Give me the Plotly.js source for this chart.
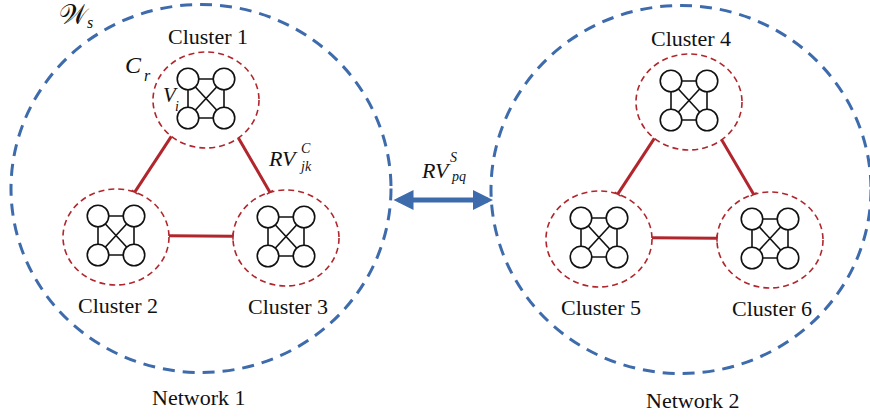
<!DOCTYPE html>
<html>
<head>
<meta charset="utf-8">
<script src="https://cdn.plot.ly/plotly-3.0.1.min.js"></script>
<style>html,body{margin:0;padding:0;background:#fff;}#chart{width:870px;height:417px;}</style>
</head>
<body>
<div id="chart"></div>
<script>
// ---- data ----
const clusterLabels = ['Cluster 1', 'Cluster 2', 'Cluster 3', 'Cluster 4', 'Cluster 5', 'Cluster 6'];
const clusterX = [206, 116, 286, 689, 599, 770];
const clusterY = [100, 237, 238, 102, 239, 240];
const clusterNetwork = [0, 0, 0, 1, 1, 1];
const networkLabels = ['Network 1', 'Network 2'];
const networkX = [201, 681];
const networkY = [188.5, 189.5];
const linkFrom = [0, 0, 1, 3, 3, 4];
const linkTo = [1, 2, 2, 4, 5, 5];
const interLinkFrom = [0];
const interLinkTo = [1];

// ---- styles / geometry ----
const BLUE = '#3d6bab', RED = '#b1262c', BLACK = '#111';
const NET_RX = 190, NET_RY = 184;
const NET_LABEL_DX = [-3, 11], NET_LABEL_DY = [208.5, 210.5];
const CL_RX = 53, CL_RY = 48;
const NODE_DX = 18, NODE_DY = 19.5;
const FONT = 'Liberation Serif';

const shapes = [];
const annotations = [];
const traces = [];

// network circles
networkX.forEach((cx, i) => {
  const cy = networkY[i];
  shapes.push({type: 'circle', xref: 'x', yref: 'y', x0: cx - NET_RX, x1: cx + NET_RX, y0: cy - NET_RY, y1: cy + NET_RY,
    line: {color: BLUE, width: 3, dash: '12px,8px'}, fillcolor: 'rgba(0,0,0,0)', layer: 'below'});
  annotations.push({x: cx + NET_LABEL_DX[i], y: cy + NET_LABEL_DY[i], xref: 'x', yref: 'y', text: networkLabels[i], showarrow: false,
    font: {family: FONT, size: 22, color: BLACK}, xanchor: 'center', yanchor: 'middle'});
});

// cluster circles + labels
clusterX.forEach((cx, i) => {
  const cy = clusterY[i];
  shapes.push({type: 'circle', xref: 'x', yref: 'y', x0: cx - CL_RX, x1: cx + CL_RX, y0: cy - CL_RY, y1: cy + CL_RY,
    line: {color: RED, width: 1.6, dash: '6px,4px'}, fillcolor: 'rgba(0,0,0,0)', layer: 'below'});
  const above = (i % 3) === 0;
  annotations.push({x: cx + (above ? 1.5 : 2), y: above ? cy - 64 : cy + 68, xref: 'x', yref: 'y', text: clusterLabels[i],
    showarrow: false, font: {family: FONT, size: 22, color: BLACK}, xanchor: 'center', yanchor: 'middle'});
});

// intra-network links between clusters
function ellipseHit(cx, cy, px, py, ux, uy) {
  const ax = (px - cx) / CL_RX, bx = ux / CL_RX, ay = (py - cy) / CL_RY, by = uy / CL_RY;
  const A = bx * bx + by * by, B = 2 * (ax * bx + ay * by), C = ax * ax + ay * ay - 1;
  const D = Math.sqrt(Math.max(0, B * B - 4 * A * C));
  return [(-B - D) / (2 * A), (-B + D) / (2 * A)];
}
const linkX = [], linkY = [], tickX = [], tickY = [];
linkFrom.forEach((a, k) => {
  const b = linkTo[k];
  const ax = clusterX[a], ay = clusterY[a], bx = clusterX[b], by = clusterY[b];
  let ux = bx - ax, uy = by - ay;
  const L = Math.hypot(ux, uy); ux /= L; uy /= L;
  let nx = -uy, ny = ux;
  const n = clusterNetwork[a];
  const mx = (ax + bx) / 2 - networkX[n], my = (ay + by) / 2 - networkY[n];
  if (nx * mx + ny * my < 0) { nx = -nx; ny = -ny; }
  const off = Math.abs(uy) > 0.3 ? 9 : -1.5;
  const px = ax + nx * off, py = ay + ny * off;
  const tA = ellipseHit(ax, ay, px, py, ux, uy)[1];
  const tB = ellipseHit(bx, by, px, py, ux, uy)[0];
  const sx = px + tA * ux, sy = py + tA * uy, ex = px + tB * ux, ey = py + tB * uy;
  linkX.push(sx, ex, null); linkY.push(sy, ey, null);
  tickX.push(ex - nx * 3.5, ex + nx * 3.5, null); tickY.push(ey - ny * 3.5, ey + ny * 3.5, null);
});
traces.push({x: linkX, y: linkY, mode: 'lines', line: {color: RED, width: 3}, hoverinfo: 'skip'});
traces.push({x: tickX, y: tickY, mode: 'lines', line: {color: RED, width: 1.5}, hoverinfo: 'skip'});

// nodes inside each cluster
const edgeX = [], edgeY = [], nodeX = [], nodeY = [];
clusterX.forEach((cx, i) => {
  const cy = clusterY[i] - 1.5;
  const px = [cx - NODE_DX, cx + NODE_DX, cx + NODE_DX, cx - NODE_DX];
  const py = [cy - NODE_DY, cy - NODE_DY, cy + NODE_DY, cy + NODE_DY];
  const pairs = [[0, 1], [1, 2], [2, 3], [3, 0], [0, 2], [1, 3]];
  pairs.forEach(([p, q]) => { edgeX.push(px[p], px[q], null); edgeY.push(py[p], py[q], null); });
  for (let j = 0; j < 4; j++) { nodeX.push(px[j]); nodeY.push(py[j]); }
});
traces.push({x: edgeX, y: edgeY, mode: 'lines', line: {color: BLACK, width: 1.6}, hoverinfo: 'skip'});
traces.push({x: nodeX, y: nodeY, mode: 'markers', marker: {symbol: 'circle', size: 21.5, color: '#fff', line: {color: BLACK, width: 1.6}}, hoverinfo: 'skip'});

// inter-network link (double arrow)
interLinkFrom.forEach((a, k) => {
  const b = interLinkTo[k];
  const y = 200;
  annotations.push({x: networkX[b] - NET_RX + 2, y: y, ax: networkX[a] + NET_RX + 1, ay: y, xref: 'x', yref: 'y', axref: 'x', ayref: 'y',
    text: '', showarrow: true, arrowhead: 2, startarrowhead: 2, arrowside: 'end+start', arrowsize: 0.8, startarrowsize: 0.8,
    arrowwidth: 5, arrowcolor: BLUE});
});

// math labels
function mathText(x, y, text, size, italic) {
  annotations.push({x: x, y: y, xref: 'x', yref: 'y', text: italic ? '<i>' + text + '</i>' : text, showarrow: false,
    font: {family: FONT, size: size, color: BLACK}, xanchor: 'center', yanchor: 'middle'});
}
mathText(74, 15, '𝒲', 27, false);
mathText(90, 22, 's', 16, true);
mathText(133, 65, 'C', 24, true);
mathText(147, 75, 'r', 16, true);
mathText(170, 95, 'V', 21, true);
mathText(177, 106, 'i', 14, true);
mathText(283, 158, 'RV', 22, true);
mathText(306, 148, 'C', 14, true);
mathText(305, 166, 'jk', 14, true);
mathText(436, 170, 'RV', 22, true);
mathText(453, 157, 'S', 14, true);
mathText(458, 176, 'pq', 14, true);

const layout = {
  width: 870, height: 417,
  margin: {l: 0, r: 0, t: 0, b: 0},
  paper_bgcolor: '#fff', plot_bgcolor: '#fff',
  showlegend: false,
  font: {family: FONT},
  xaxis: {range: [0, 870], visible: false, fixedrange: true},
  yaxis: {range: [417, 0], visible: false, fixedrange: true},
  shapes: shapes,
  annotations: annotations
};
Plotly.newPlot('chart', traces, layout, {staticPlot: true, displayModeBar: false});
</script>
</body>
</html>
